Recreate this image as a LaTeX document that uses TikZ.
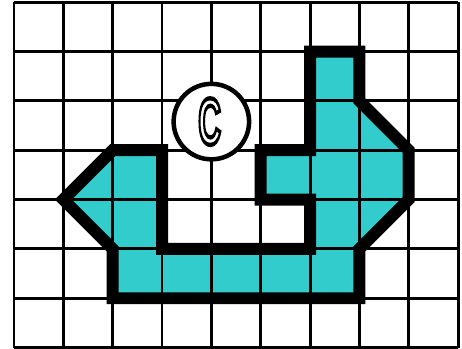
\documentclass[tikz,border=0pt]{standalone}
\usepackage{fontspec}
\setmainfont{Liberation Sans}
\definecolor{shipteal}{RGB}{51,204,204}
\newcommand{\hollowtext}[1]{{\color{white}\special{pdf:literal direct 2 Tr 2.5 w 0 G}#1\special{pdf:literal direct 0 Tr 1 w}}}
\begin{document}
\begin{tikzpicture}[x=1cm,y=1cm,
  gridline/.style={line width=1.7pt,black},
  shipoutline/.style={line width=6.9pt,black,line join=miter,miter limit=10},
  badge/.style={circle,draw=black,line width=2.6pt,fill=white,minimum size=1.53cm,inner sep=0pt}]
\useasboundingbox (-0.284,-0.01) rectangle (9.08,7.045);
\fill[shipteal] (1,3) -- (2,4) -- (3,4) -- (3,2) -- (6,2) -- (6,3) -- (5,3) -- (5,4) -- (6,4) -- (6,6) -- (7,6) -- (7,5) -- (8,4) -- (8,3) -- (7,2) -- (7,1) -- (2,1) -- (2,2) -- cycle;
\draw[gridline] (0,0) grid (9,7);
\draw[shipoutline] (1,3) -- (2,4) -- (3,4) -- (3,2) -- (6,2) -- (6,3) -- (5,3) -- (5,4) -- (6,4) -- (6,6) -- (7,6) -- (7,5) -- (8,4) -- (8,3) -- (7,2) -- (7,1) -- (2,1) -- (2,2) -- cycle;
\node[badge] (badge) at (4,4.58) {};
\node[inner sep=0pt] (letter) at ([xshift=-1pt]badge.center) {\scalebox{0.48}[1]{\fontsize{38}{38}\selectfont\bfseries\hollowtext{C}}};
\end{tikzpicture}
\end{document}
